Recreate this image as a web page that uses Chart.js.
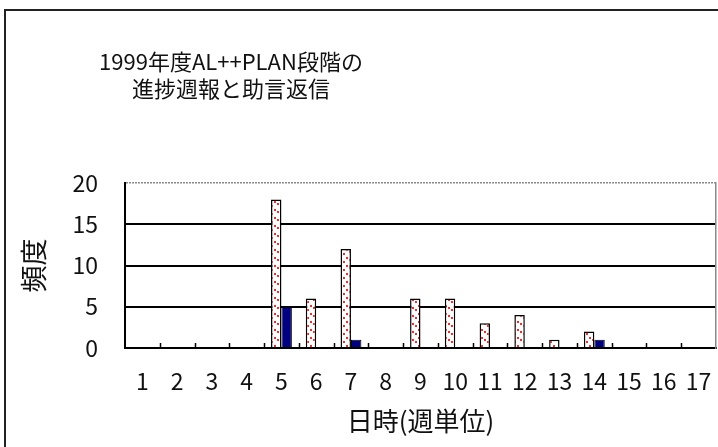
<!DOCTYPE html>
<html>
<head>
<meta charset="utf-8">
<script src="https://cdn.jsdelivr.net/npm/chart.js@4"></script>
<style>
  html, body { margin: 0; padding: 0; background: #fff; }
  body { width: 718px; height: 447px; position: relative; overflow: hidden; }
  #frame { position: absolute; left: 4px; top: 9px; width: 800px; height: 500px;
           border: 2px solid #222; box-sizing: border-box; }
  #wrap { position: absolute; left: 0; top: 0; width: 718px; height: 447px; }
</style>
</head>
<body>
<div id="frame"></div>
<div id="wrap"><canvas id="c" width="718" height="447"></canvas></div>
<script>
// Weeks of the 1999 AL++PLAN phase
const weeks = ['1','2','3','4','5','6','7','8','9','10','11','12','13','14','15','16','17'];
// Weekly progress reports received
const progressReports = [0, 0, 0, 0, 18, 6, 12, 0, 6, 6, 3, 4, 1, 2, 0, 0, 0];
// Advice replies sent back
const adviceReplies = [0, 0, 0, 0, 5, 0, 1, 0, 0, 0, 0, 0, 0, 1, 0, 0, 0];
const yTicks = [0, 5, 10, 15, 20];
const titleLines = ['1999年度AL++PLAN段階の', '進捗週報と助言返信'];

const FONT = '"Noto Sans CJK JP", "Noto Sans", sans-serif';

// white fill sprinkled with small red dots
function dotPattern() {
  const t = document.createElement('canvas');
  t.width = 9; t.height = 8;
  const g = t.getContext('2d');
  g.fillStyle = '#ffffff';
  g.fillRect(0, 0, 9, 8);
  g.fillStyle = 'rgba(250,30,30,0.95)';
  [[1, 5], [4, 1], [7, 3]].forEach(([x, y]) => g.fillRect(x, y, 2, 2));
  return g.createPattern(t, 'repeat');
}

// chart title, drawn left of centre over the plot
const titlePlugin = {
  id: 'leftTitle',
  afterDraw(chart) {
    const ctx = chart.ctx;
    ctx.save();
    ctx.font = '22px ' + FONT;
    ctx.fillStyle = '#111';
    ctx.textAlign = 'center';
    ctx.textBaseline = 'middle';
    titleLines.forEach((s, i) => ctx.fillText(s, 231, 62 + i * 27));
    ctx.restore();
  }
};

// short inward tick marks on the category boundaries of the x axis
const innerTicks = {
  id: 'innerTicks',
  afterDatasetsDraw(chart) {
    const x = chart.scales.x, y = chart.scales.y;
    const ctx = chart.ctx;
    const base = y.getPixelForValue(0);
    ctx.save();
    ctx.strokeStyle = '#000';
    ctx.lineWidth = 1.5;
    for (let i = 1; i < weeks.length; i++) {
      const px = Math.round((x.getPixelForValue(i - 1) + x.getPixelForValue(i)) / 2) + 0.5;
      ctx.beginPath();
      ctx.moveTo(px, base);
      ctx.lineTo(px, base - 5);
      ctx.stroke();
    }
    ctx.restore();
  }
};

new Chart(document.getElementById('c'), {
  type: 'bar',
  data: {
    labels: weeks,
    datasets: [
      {
        label: '進捗週報',
        data: progressReports,
        backgroundColor: dotPattern(),
        borderColor: '#000',
        borderWidth: 1.5,
        categoryPercentage: 0.6,
        barPercentage: 1.0
      },
      {
        label: '助言返信',
        data: adviceReplies,
        backgroundColor: '#000080',
        borderColor: '#000',
        borderWidth: 1,
        categoryPercentage: 0.6,
        barPercentage: 1.0
      }
    ]
  },
  options: {
    responsive: false,
    animation: false,
    devicePixelRatio: 1,
    layout: { padding: { left: 0, top: 183, right: 0, bottom: 0 } },
    plugins: { legend: { display: false }, tooltip: { enabled: false }, title: { display: false } },
    scales: {
      x: {
        offset: true,
        afterFit(s) { s.height = 99; s.paddingLeft = 0; s.paddingRight = 0; },
        grid: { display: false },
        border: { display: true, color: '#000', width: 2 },
        ticks: { color: '#111', font: { family: FONT, size: 23 }, padding: 11, maxRotation: 0, autoSkip: false },
        title: { display: true, text: '日時(週単位)', color: '#111',
                 font: { family: FONT, size: 26 }, padding: { top: 0, bottom: 10 } }
      },
      y: {
        min: 0, max: 20,
        afterFit(s) { s.width = 125; },
        afterBuildTicks(s) { s.ticks = yTicks.map(v => ({ value: v })); },
        grid: {
          drawTicks: false,
          color: c => (c.tick && c.tick.value === 20 ? '#8a8a8a' : '#000'),
          lineWidth: c => (c.tick && c.tick.value === 20 ? 1.5 : 2)
        },
        border: { display: true, color: '#000', width: 2,
                  dash: c => (c.tick && c.tick.value === 20 ? [2, 1] : []) },
        ticks: { color: '#111', font: { family: FONT, size: 23 }, padding: 27 },
        title: { display: true, text: '頻度', color: '#111',
                 font: { family: FONT, size: 27 }, padding: { top: 18, bottom: 0 } }
      },
      // right edge of the plot: a bare axis drawn as a dotted grey line
      yRight: {
        position: 'right',
        min: 0, max: 20,
        afterFit(s) { s.width = 2; },
        grid: { display: false },
        ticks: { display: false },
        border: { display: true, color: '#8a8a8a', width: 1.5, dash: [2, 1] }
      }
    }
  },
  plugins: [titlePlugin, innerTicks]
});
</script>
</body>
</html>
